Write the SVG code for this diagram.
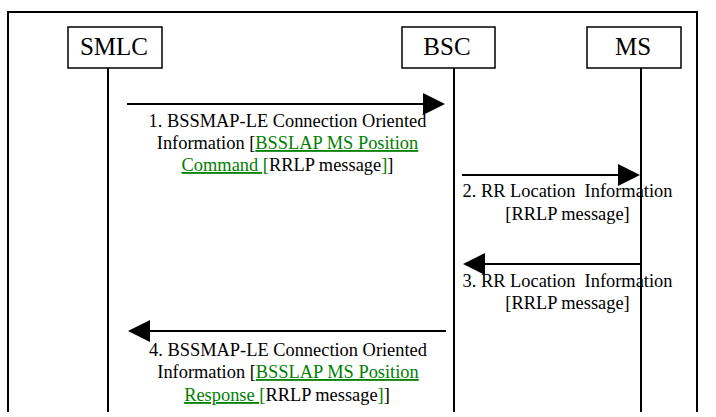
<svg xmlns="http://www.w3.org/2000/svg" width="716" height="417" viewBox="0 0 716 417">
<style>
.box{fill:#fff;stroke:#000;stroke-width:1.5}
.life{stroke:#000;stroke-width:2;fill:none}
.frame{stroke:#000;stroke-width:2;fill:none}
.msg{stroke:#000;stroke-width:2;fill:none}
.head{fill:#000}
.lbl{font-family:"Liberation Serif","Times New Roman",serif;font-size:25px;fill:#000;text-anchor:middle}
.t{font-family:"Liberation Serif","Times New Roman",serif;font-size:18.4px;fill:#000;text-anchor:middle;white-space:pre}
.g{fill:#008000;text-decoration:underline}
</style>
<rect width="716" height="417" fill="#fff"/>
<path class="frame" d="M8,412 V12 H697 V412"/>
<g id="SMLC"><rect class="box" x="68" y="27" width="94" height="41"/><text class="lbl" x="114" y="55">SMLC</text></g>
<g id="BSC"><rect class="box" x="402" y="27" width="93" height="41"/><text class="lbl" x="447" y="55">BSC</text></g>
<g id="MS"><rect class="box" x="587" y="27" width="94" height="41"/><text class="lbl" x="633" y="55">MS</text></g>
<g id="lifelines">
<line class="life" x1="108" y1="68" x2="108" y2="412"/>
<line class="life" x1="454" y1="68" x2="454" y2="412"/>
<line class="life" x1="641" y1="68" x2="641" y2="412"/>
</g>
<g id="connectors">
<line class="msg" x1="127" y1="104" x2="425" y2="104"/>
<polygon class="head" points="445,104 423,93 423,115"/>
<line class="msg" x1="462" y1="175" x2="620" y2="175"/>
<polygon class="head" points="640,175 618,164 618,186"/>
<line class="msg" x1="641" y1="264" x2="482" y2="264"/>
<polygon class="head" points="463,264 485,253 485,275"/>
<line class="msg" x1="446" y1="331" x2="148" y2="331"/>
<polygon class="head" points="128,331 150,320 150,342"/>
</g>
<g id="labels">
<text class="t" x="287.5" y="127">1. BSSMAP-LE Connection Oriented</text>
<text class="t" x="287.5" y="149">Information [<tspan class="g">BSSLAP MS Position</tspan></text>
<text class="t" x="287.5" y="171"><tspan class="g">Command [</tspan>RRLP message<tspan class="g">]</tspan>]</text>
<text class="t" x="567.5" y="197">2. RR Location  Information</text>
<text class="t" x="567.5" y="220">[RRLP message]</text>
<text class="t" x="567.5" y="287">3. RR Location  Information</text>
<text class="t" x="567.5" y="309">[RRLP message]</text>
<text class="t" x="288" y="356">4. BSSMAP-LE Connection Oriented</text>
<text class="t" x="288" y="378">Information [<tspan class="g">BSSLAP MS Position</tspan></text>
<text class="t" x="287" y="401"><tspan class="g">Response [</tspan>RRLP message<tspan class="g">]</tspan>]</text>
</g>
</svg>
